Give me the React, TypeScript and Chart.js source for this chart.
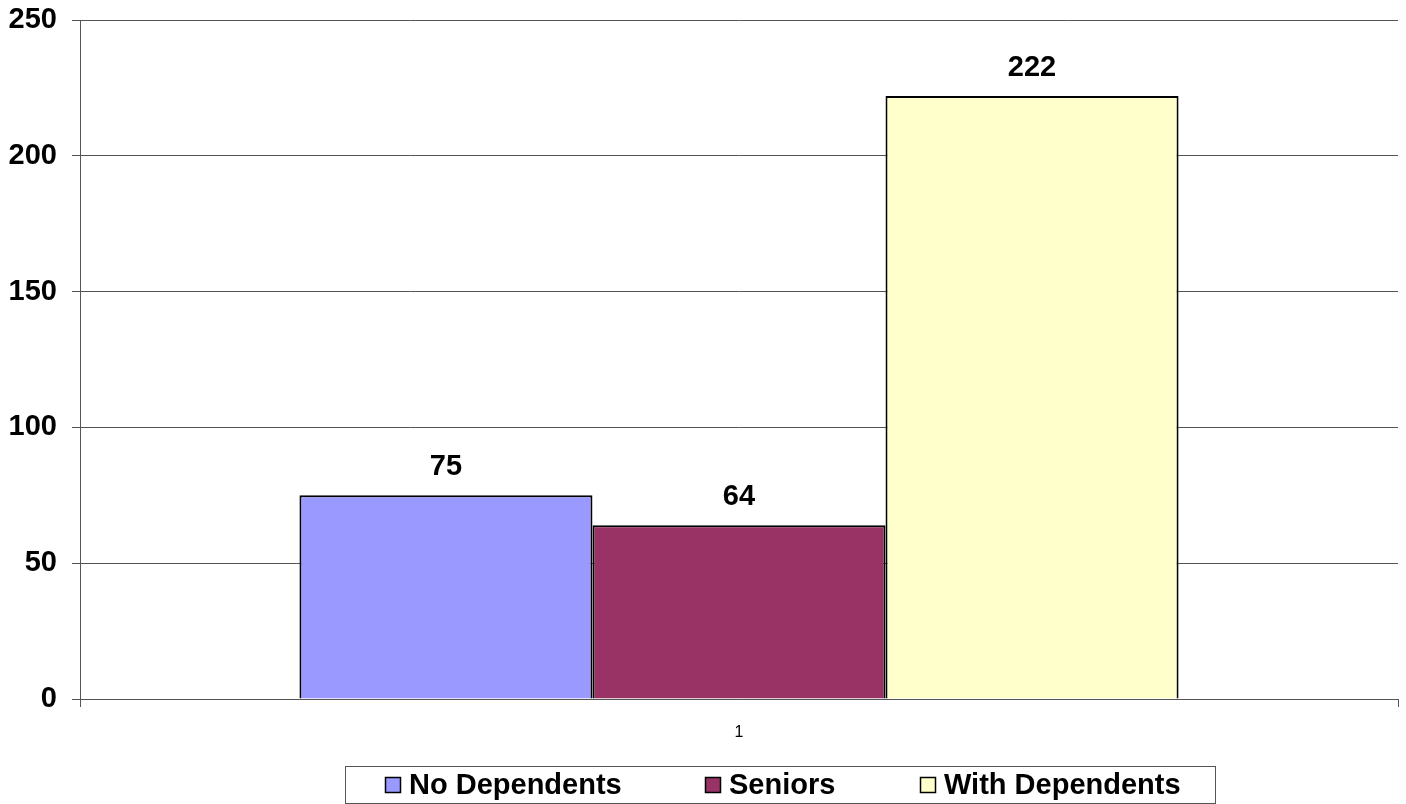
import React, { useEffect, useRef } from "react";
import { Chart, registerables } from "chart.js";

Chart.register(...registerables);

const categories = ["1"];
const seriesLabels = ["No Dependents", "Seniors", "With Dependents"];
const noDependents = [75];
const seniors = [64];
const withDependents = [222];
const seriesColors = ["#9999FF", "#993366", "#FFFFCC"];
const yTicks = [0, 50, 100, 150, 200, 250];

const FONT = "'Liberation Sans', Arial, sans-serif";

const valueLabels = {
  id: "valueLabels",
  afterDatasetsDraw(chart: any) {
    const ctx = chart.ctx;
    ctx.save();
    ctx.font = `bold 29px ${FONT}`;
    ctx.fillStyle = "#000";
    ctx.textAlign = "center";
    ctx.textBaseline = "middle";
    chart.data.datasets.forEach((ds: any, i: number) => {
      const meta = chart.getDatasetMeta(i);
      meta.data.forEach((el: any, j: number) => {
        ctx.fillText(String(ds.data[j]), el.x, el.y - 28);
      });
    });
    ctx.restore();
  },
};

const boxedLegend = {
  id: "boxedLegend",
  afterDraw(chart: any) {
    const ctx = chart.ctx;
    ctx.save();
    ctx.strokeStyle = "#555";
    ctx.lineWidth = 1;
    ctx.strokeRect(345.5, 766.5, 870, 37);
    ctx.font = `bold 29px ${FONT}`;
    ctx.textBaseline = "middle";
    ctx.textAlign = "left";
    const starts = [385, 705, 920];
    chart.data.datasets.forEach((ds: any, i: number) => {
      const x = starts[i];
      ctx.fillStyle = ds.backgroundColor;
      ctx.fillRect(x, 777, 16, 16);
      ctx.strokeStyle = "#000";
      ctx.lineWidth = 1.5;
      ctx.strokeRect(x + 0.5, 777.5, 15, 15);
      ctx.fillStyle = "#000";
      ctx.fillText(ds.label, x + 24, 786);
    });
    ctx.restore();
  },
};

export default function App() {
  const ref = useRef<HTMLCanvasElement>(null);
  useEffect(() => {
    if (!ref.current) return;
    const values = [noDependents, seniors, withDependents];
    const chart = new Chart(ref.current, {
      type: "bar",
      data: {
        labels: categories,
        datasets: seriesLabels.map((label, i) => ({
          label,
          data: values[i],
          backgroundColor: seriesColors[i],
          borderColor: "#000",
          borderWidth: 2,
          categoryPercentage: 0.667,
          barPercentage: 1.0,
        })),
      },
      options: {
        responsive: false,
        animation: false,
        layout: { padding: { top: 20, right: 8, left: 0, bottom: 0 } },
        plugins: {
          legend: { display: false },
          tooltip: { enabled: false },
        },
        scales: {
          x: {
            offset: true,
            grid: {
              offset: true,
              drawOnChartArea: false,
              drawTicks: true,
              tickLength: 8,
              color: "#555",
            },
            border: { color: "#555", width: 1 },
            ticks: {
              color: "#000",
              font: { family: FONT, size: 16 },
              padding: 16,
            },
            afterFit: (s: any) => {
              s.height = 105;
              s.paddingLeft = 0;
              s.paddingRight = 0;
            },
          },
          y: {
            min: 0,
            max: 250,
            afterBuildTicks: (s: any) => {
              s.ticks = yTicks.map((v) => ({ value: v }));
            },
            grid: {
              color: "#555",
              tickLength: 8,
              lineWidth: 1,
            },
            border: { color: "#555", width: 1 },
            ticks: {
              color: "#000",
              font: { family: FONT, size: 29, weight: "bold" },
              padding: 15,
            },
            afterFit: (s: any) => {
              s.width = 80;
              s.paddingTop = 0;
              s.paddingBottom = 0;
            },
          },
        },
      },
      plugins: [valueLabels, boxedLegend],
    });
    return () => chart.destroy();
  }, []);
  return (
    <div style={{ position: "absolute", left: 0, top: 0, width: 1406, height: 804, background: "#fff" }}>
      <canvas ref={ref} width={1406} height={804} style={{ display: "block" }} />
    </div>
  );
}
